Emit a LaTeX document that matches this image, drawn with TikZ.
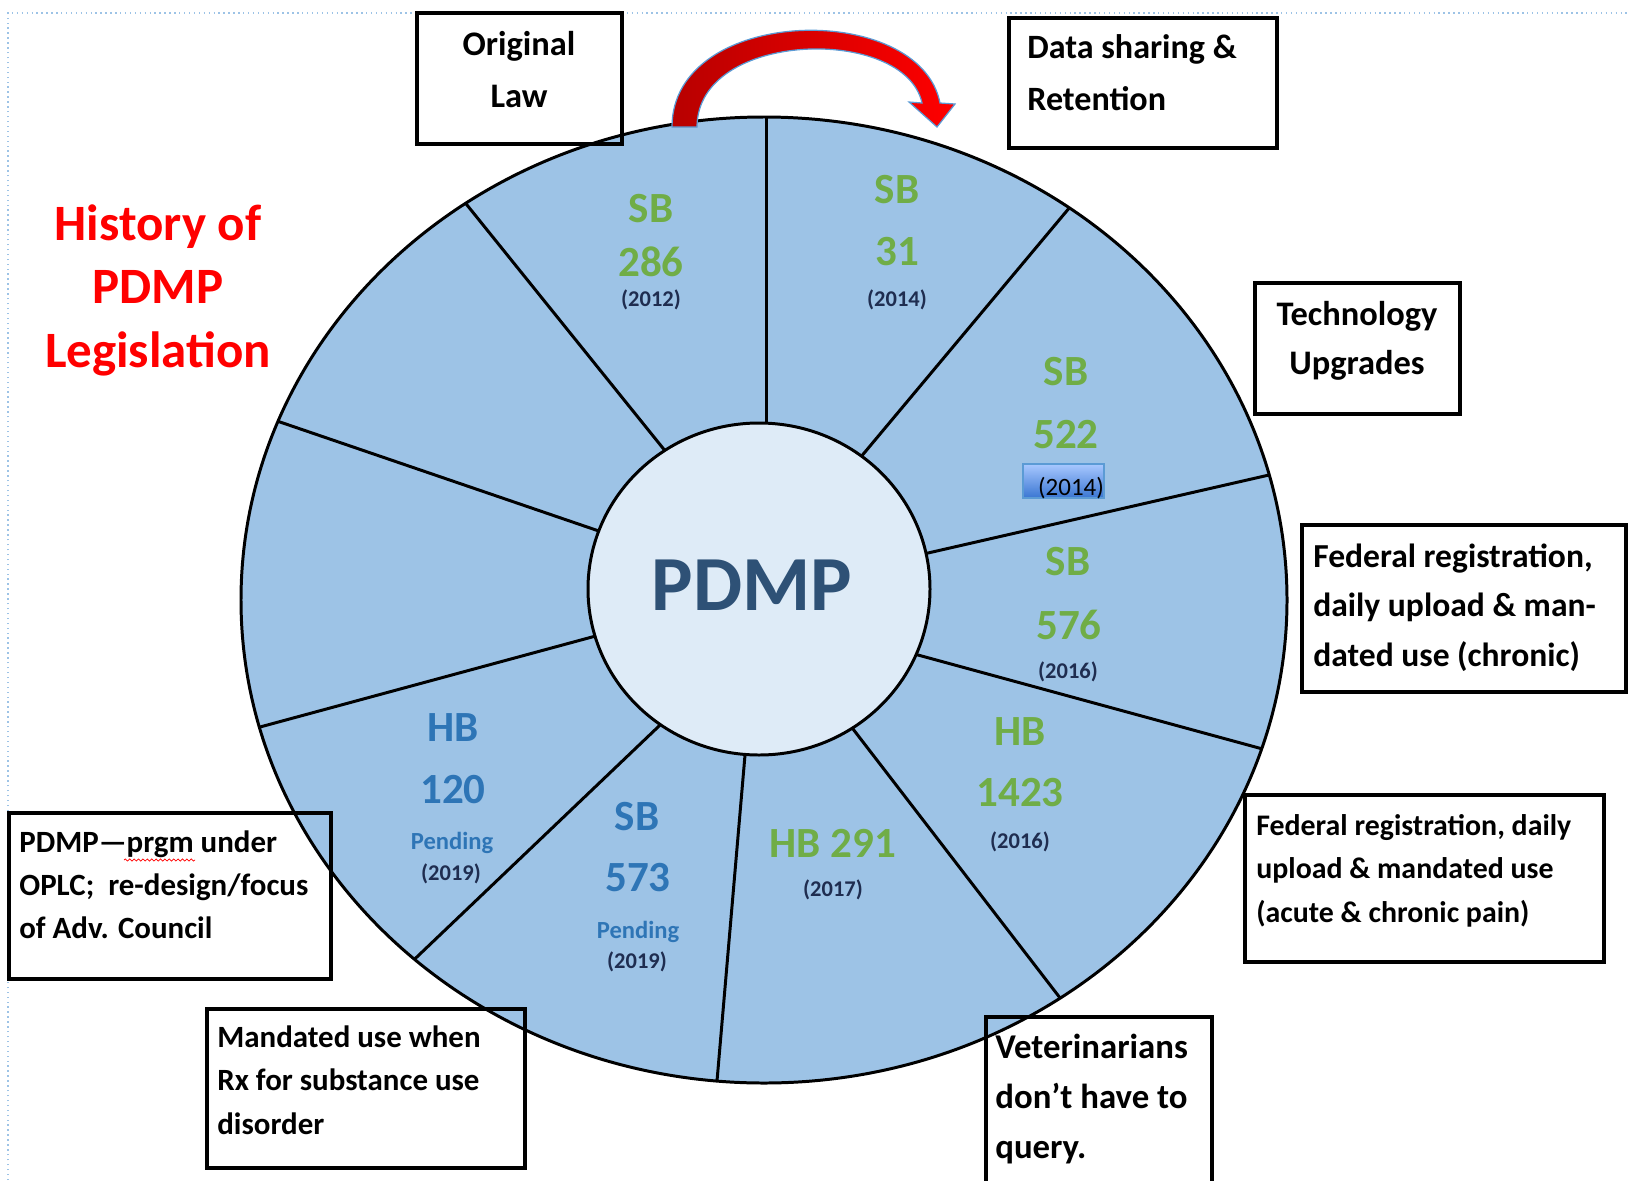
\documentclass[tikz,border=0pt]{standalone}
\usepackage{fontspec}
\setmainfont{Carlito}
\usetikzlibrary{calc,fit,decorations.pathmorphing}
\definecolor{ringblue}{HTML}{9DC3E6}
\definecolor{innerblue}{HTML}{DEEBF7}
\definecolor{lblgreen}{HTML}{70AD47}
\definecolor{lblblue}{HTML}{2E75B6}
\definecolor{pdmpblue}{HTML}{2E5176}
\definecolor{yearnavy}{HTML}{1F2D50}
\definecolor{titlered}{HTML}{FF0000}
\definecolor{dotblue}{HTML}{9DC3E6}
\definecolor{arrowedge}{HTML}{5B9BD5}
\definecolor{gradtop}{HTML}{A8C8FF}
\definecolor{gradbot}{HTML}{3A76D2}
\newcommand\fsz[2]{\fontsize{#1}{#2}\selectfont}
\begin{document}
\begin{tikzpicture}[x=0.02cm, y=-0.02cm,
  ringline/.style={line width=1.7pt},
  spokeline/.style={line width=1.7pt, line cap=butt},
  frame/.style={draw=black, line width=2pt, inner sep=0pt},
  boxtext/.style={inner sep=0pt, text=black},
  num/.style={inner sep=0pt, font=\fsz{24.5}{29}\bfseries},
  yr/.style={inner sep=0pt, text=yearnavy, font=\fsz{12.8}{15}\bfseries},
  pend/.style={inner sep=0pt, text=lblblue, font=\fsz{14}{17}\bfseries},
  titletext/.style={inner sep=0pt, text=titlered, font=\fsz{29}{35}\bfseries}
]
\useasboundingbox (0,0) rectangle (1629,1180);

% dotted page frame
\coordinate (fr1) at (8,1180);
\coordinate (fr2) at (8,13);
\coordinate (fr3) at (1629,13);
\draw[dotblue, dotted, line width=0.8pt] (fr1) -- (fr2) -- (fr3);

% ring
\coordinate (C) at (764,600);
\fill[ringblue] (C) ellipse [x radius=523, y radius=483];

% spoke end points
\coordinate (i1) at (766,421);  \coordinate (o1) at (766,116);
\coordinate (i2) at (865,452);  \coordinate (o2) at (1065,213);
\coordinate (i3) at (928,553);  \coordinate (o3) at (1269,475);
\coordinate (i4) at (918,655);  \coordinate (o4) at (1259,748);
\coordinate (i5) at (853,729);  \coordinate (o5) at (1057,994);
\coordinate (i6) at (745,755);  \coordinate (o6) at (717,1081);
\coordinate (i7) at (658,727);  \coordinate (o7) at (420,954);
\coordinate (i8) at (592,637);  \coordinate (o8) at (260,727);
\coordinate (i9) at (593,529);  \coordinate (o9) at (280,422);
\coordinate (i10) at (662,447); \coordinate (o10) at (467,205);
\begin{scope}
  \clip (C) ellipse [x radius=523, y radius=483];
  \foreach \k in {1,...,10}
    \draw[spokeline] ($(i\k)!-0.08!(o\k)$) -- ($(i\k)!1.06!(o\k)$);
\end{scope}
\draw[ringline] (C) ellipse [x radius=523, y radius=483];

% centre
\draw[ringline, fill=innerblue] (759,589) ellipse [x radius=171, y radius=166];
\node[inner sep=0pt, text=pdmpblue, font=\fsz{44.4}{50}\bfseries] (pdmp) at (752,585) {PDMP};

% title
\node[titletext, anchor=base] (h1) at (158,240) {History of};
\node[titletext, anchor=base] (h2) at (158,303) {PDMP};
\node[titletext, anchor=base] (h3) at (158,367) {Legislation};

% curved arrow
\draw[arrowedge, line width=0.7pt, left color=red!72!black, right color=red]
  (672,127) .. controls (672,5) and (920,0) .. (940,103)
  -- (955,104) -- (937,127) -- (909,102) -- (922,103)
  .. controls (905,25) and (697,30) .. (697,127) -- cycle;

% sector labels
\node[num, text=lblgreen] (l286a) at (651,209) {SB};
\node[num, text=lblgreen] (l286b) at (651,262) {286};
\node[yr] (l286c) at (651,300) {(2012)};
\node[num, text=lblgreen] (l31a) at (897,190) {SB};
\node[num, text=lblgreen] (l31b) at (897,252) {31};
\node[yr] (l31c) at (897,300) {(2014)};
\node[num, text=lblgreen] (l522a) at (1066,372) {SB};
\node[num, text=lblgreen] (l522b) at (1066,435) {522};
\node[draw=arrowedge, line width=0.6pt, top color=gradtop, bottom color=gradbot, inner sep=0pt, fit={(1023,464) (1104,498)}] (g2014) {};
\node[inner sep=0pt, text=black, font=\fsz{14.2}{17}] (l522c) at (1071,488) {(2014)};
\node[num, text=lblgreen] (l576a) at (1068,562) {SB};
\node[num, text=lblgreen] (l576b) at (1069,625) {576};
\node[yr] (l576c) at (1068,672) {(2016)};
\node[num, text=lblgreen] (l1423a) at (1020,732) {HB};
\node[num, text=lblgreen] (l1423b) at (1020,793) {1423};
\node[yr] (l1423c) at (1020,842) {(2016)};
\node[num, text=lblgreen] (l291a) at (833,843) {HB 291};
\node[yr] (l291b) at (833,890) {(2017)};
\node[num, text=lblblue] (l573a) at (637,817) {SB};
\node[num, text=lblblue] (l573b) at (638,878) {573};
\node[pend] (l573c) at (638,932) {Pending};
\node[yr] (l573d) at (637,962) {(2019)};
\node[num, text=lblblue] (l120a) at (453,728) {HB};
\node[num, text=lblblue] (l120b) at (453,790) {120};
\node[pend] (l120c) at (452,843) {Pending};
\node[yr] (l120d) at (451,874) {(2019)};

% boxes
\node[frame, fit={(417,13) (622,144)}] (bOrig) {};
\node[boxtext, anchor=base, font=\fsz{19.6}{29.6}\bfseries] (tOrig) at (519,55)
  {\begin{tabular}[t]{@{}c@{}}Original\\Law\end{tabular}};

\node[frame, fit={(1009,18) (1277,148)}] (bData) {};
\node[boxtext, anchor=base west, font=\fsz{19.4}{29.6}\bfseries] (tData) at (1027,58)
  {\begin{tabular}[t]{@{}l@{}}Data sharing \&\\Retention\end{tabular}};

\node[frame, fit={(1255,283) (1460,414)}] (bTech) {};
\node[boxtext, anchor=base, font=\fsz{19.6}{27.9}\bfseries] (tTech) at (1357,325)
  {\begin{tabular}[t]{@{}c@{}}Technology\\Upgrades\end{tabular}};

\node[frame, fit={(1302,525) (1626,692)}] (bFedA) {};
\node[boxtext, anchor=base west, font=\fsz{19.1}{28.2}\bfseries] (tFedA) at (1313,567)
  {\begin{tabular}[t]{@{}l@{}}Federal registration,\\daily upload \& man-\\dated use (chronic)\end{tabular}};

\node[frame, fit={(1245,795) (1604,962)}] (bFedB) {};
\node[boxtext, anchor=base west, font=\fsz{17}{24.8}\bfseries] (tFedB) at (1256,835)
  {\begin{tabular}[t]{@{}l@{}}Federal registration, daily\\upload \& mandated use\\(acute \& chronic pain)\end{tabular}};

\node[frame, fit={(986,1017) (1212,1200)}] (bVet) {};
\node[boxtext, anchor=base west, font=\fsz{19.8}{28.5}\bfseries] (tVet) at (995,1058)
  {\begin{tabular}[t]{@{}l@{}}Veterinarians\\don’t have to\\query.\end{tabular}};

\node[frame, fit={(9,813) (331,979)}] (bOplc) {};
\node[boxtext, anchor=base west, font=\fsz{17.6}{24.5}\bfseries] (tOplc) at (19,852)
  {\begin{tabular}[t]{@{}l@{}}PDMP—prgm under\\OPLC;\ \ re-design/focus\\of Adv. Council\end{tabular}};
\coordinate (sq1) at (124,860);
\coordinate (sq2) at (195,860);
\draw[red, line width=0.4pt, decorate, decoration={snake, amplitude=0.6pt, segment length=2.5pt}] (sq1) -- (sq2);

\node[frame, fit={(207,1009) (525,1168)}] (bMand) {};
\node[boxtext, anchor=base west, font=\fsz{17.6}{25}\bfseries] (tMand) at (217,1047)
  {\begin{tabular}[t]{@{}l@{}}Mandated use when\\Rx for substance use\\disorder\end{tabular}};
\end{tikzpicture}
\end{document}
